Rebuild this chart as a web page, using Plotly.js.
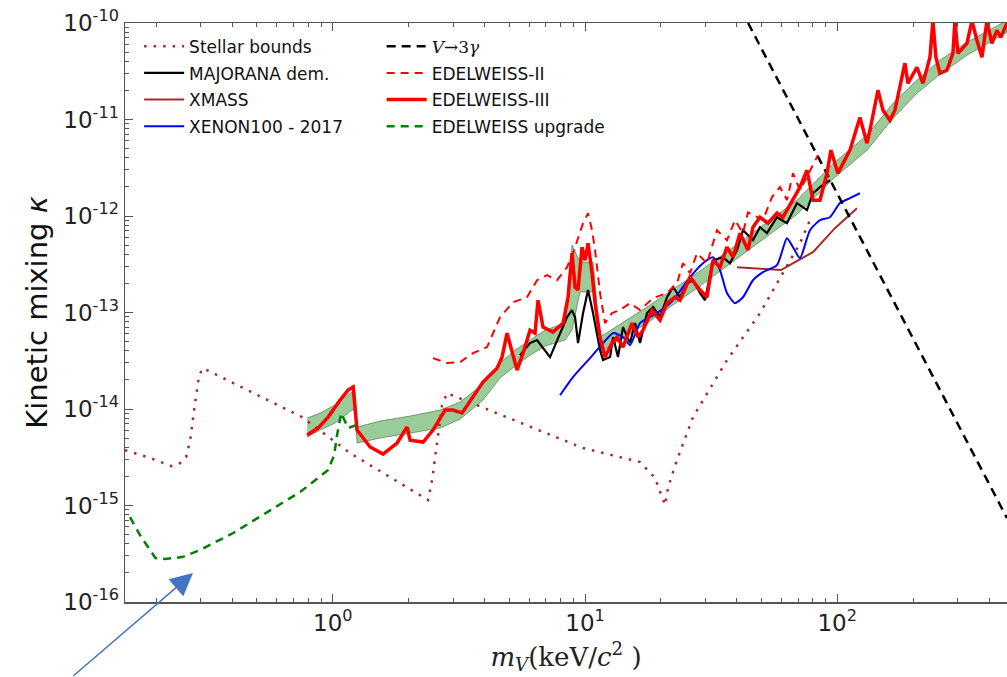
<!DOCTYPE html>
<html><head><meta charset="utf-8">
<script src="https://cdn.plot.ly/plotly-3.0.1.min.js"></script>
<style>html,body{margin:0;padding:0;background:#fff}#chart{width:1007px;height:677px}</style>
</head><body><div id="chart"></div>
<script>
// ---- data (keV/c^2, kinetic mixing) ----
const stellarX = [0.150,0.189,0.229,0.248,0.262,0.272,0.282,0.295,0.306,0.756,1.171,2.387,2.475,2.59,2.712,2.838,9.82,16.52,18.94,20.76,21.33,22.33,23.15,26.8,36.54,49.38,60.93,71.15,77.96];
const stellarY = [3.75e-15,3.10e-15,2.56e-15,2.75e-15,3.18e-15,4.76e-15,9.75e-15,2.24e-14,2.65e-14,8.24e-15,3.49e-15,1.14e-15,1.84e-15,4.76e-15,1.10e-14,1.46e-14,3.94e-15,2.82e-15,1.93e-15,1.01e-15,1.52e-15,2.22e-15,2.96e-15,8.24e-15,3.21e-14,9.85e-14,2.56e-13,5.22e-13,9.05e-13];

const majX = [5.525,6.053,6.452,6.942,7.265,7.467,7.960,8.485,8.880,9.129,9.381,9.820,10.28,10.76,11.47,11.79,12.57,12.91,13.51,14.14,15.08,15.79,16.52,17.61,18.60,19.83,21.14,22.33,23.80,25.37,26.80,28.57,29.89,32.17,35.24,37.55,40.05,42.29,46.33,49.38,52.64,57.68,63.18,69.24,75.86,80.13,85.41,93.56];
const majY = [3.61e-14,4.82e-14,5.18e-14,4.07e-14,3.45e-14,4.07e-14,6.11e-14,8.95e-14,1.06e-13,8.95e-14,4.82e-14,9.85e-14,1.71e-13,9.85e-14,4.07e-14,3.21e-14,3.45e-14,5.56e-14,3.45e-14,7.05e-14,4.82e-14,7.76e-14,4.82e-14,9.85e-14,1.14e-13,8.95e-14,1.44e-13,1.83e-13,1.44e-13,2.01e-13,2.16e-13,1.59e-13,1.34e-13,3.48e-13,3.74e-13,3.24e-13,4.43e-13,7.13e-13,5.61e-13,7.66e-13,6.64e-13,9.72e-13,8.43e-13,1.36e-12,1.15e-12,1.72e-12,1.99e-12,2.35e-12];

const xmassX = [40.05,59.83,67.98,80.13,97.9,119.7];
const xmassY = [2.95e-13,2.75e-13,3.33e-13,4.22e-13,7.48e-13,1.20e-12];

const xenonX = [7.960,8.962,10.47,11.79,12.91,14.14,15.08,16.52,19.29,22.33,26.08,29.36,32.17,34.28,36.54,39.31,42.29,46.33,50.76,57.68,63.18,66.76,71.15,77.96,85.41,93.56,102.5,112.3,123.0];
const xenonY = [1.39e-14,2.14e-14,3.37e-14,4.82e-14,6.11e-14,5.56e-14,4.59e-14,7.76e-14,9.85e-14,1.34e-13,2.32e-13,3.24e-13,3.74e-13,2.75e-13,1.59e-13,1.25e-13,1.44e-13,2.16e-13,2.62e-13,3.10e-13,5.89e-13,4.75e-13,3.66e-13,7.13e-13,9.05e-13,9.72e-13,1.36e-12,1.53e-12,1.72e-12];

const v3gX = [44.3, 471];
const v3gY = [1.0e-10, 7.4e-16];

const edw2X = [2.497,2.838,3.196,3.598,4.089,4.604,5.183,5.890,6.452,7.070,7.745,8.485,8.962,9.381,9.820,10.28,10.66,10.96,11.47,12.00,12.79,13.76,15.08,16.52,18.60,21.14,23.15,24.45,26.08,27.80,30.44,33.36,36.54,39.31,42.29,44.26,46.33,50.76,55.11,59.29,63.18,66.76,71.15,77.96,83.87];
const edw2Y = [3.37e-14,2.99e-14,3.06e-14,3.79e-14,4.38e-14,8.95e-14,1.28e-13,1.44e-13,2.16e-13,2.44e-13,2.16e-13,2.95e-13,4.12e-13,6.03e-13,8.43e-13,1.07e-12,7.13e-13,4.43e-13,1.59e-13,7.76e-14,9.85e-14,1.06e-13,1.25e-13,1.06e-13,1.41e-13,1.59e-13,2.01e-13,3.24e-13,2.56e-13,4.12e-13,3.24e-13,7.13e-13,5.61e-13,9.05e-13,6.64e-13,1.09e-12,1.02e-12,9.05e-13,1.57e-12,1.99e-12,1.46e-12,2.77e-12,1.85e-12,2.98e-12,4.27e-12];

const edw3X = [0.791,0.874,0.958,1.069,1.150,1.204,1.248,1.406,1.582,1.798,1.970,2.025,2.280,2.497,2.787,2.998,3.254,3.598,3.941,4.479,4.688,4.907,5.136,5.377,5.679,6.053,6.336,6.512,6.816,7.467,8.182,8.565,8.880,9.129,9.381,9.729,10.0,10.28,10.66,10.96,11.47,12.00,12.79,13.39,14.14,15.36,16.23,16.98,18.44,19.83,21.14,22.73,23.80,26.08,28.57,30.44,32.17,34.28,36.54,38.61,41.15,44.26,46.33,49.38,53.12,57.68,60.93,66.76,71.15,75.86,80.13,85.41,91.05,94.40,100.6,112.3,123.0,131.2,134.8,145.0,151.8,161.8,169.3,185.5,190.6,207.0,218.7,233.1,239.5,246.1,255.3,272.2,287.5,292.8,300.9,326.7,342.0,357.9,374.6,392.1,410.5,429.5,445.5,471];
const edw3Y = [5.37e-15,6.34e-15,8.24e-15,1.24e-14,1.57e-14,1.69e-14,6.05e-15,4.04e-15,3.41e-15,4.44e-15,6.50e-15,4.76e-15,4.54e-15,6.05e-15,9.75e-15,9.75e-15,9.08e-15,1.33e-14,1.90e-14,2.65e-14,3.45e-14,6.11e-14,3.79e-14,2.53e-14,3.79e-14,6.56e-14,6.11e-14,1.34e-13,7.05e-14,6.27e-14,7.76e-14,1.44e-13,4.12e-13,1.83e-13,1.71e-13,4.75e-13,3.48e-13,5.22e-13,2.56e-13,1.25e-13,5.56e-14,3.45e-14,4.82e-14,5.56e-14,4.38e-14,7.76e-14,5.56e-14,6.56e-14,1.06e-13,8.34e-14,1.25e-13,1.44e-13,1.34e-13,2.32e-13,1.71e-13,1.44e-13,3.48e-13,2.95e-13,4.75e-13,3.74e-13,6.64e-13,4.43e-13,7.66e-13,9.72e-13,8.43e-13,1.07e-12,9.72e-13,1.46e-12,1.99e-12,2.98e-12,1.46e-12,1.46e-12,2.77e-12,4.81e-12,2.77e-12,4.81e-12,1.05e-11,5.68e-12,7.74e-12,2.01e-11,1.25e-11,9.82e-12,1.25e-11,3.83e-11,2.37e-11,3.48e-11,2.37e-11,4.42e-11,1.05e-10,4.42e-11,3.01e-11,3.24e-11,4.86e-11,1.05e-10,4.86e-11,6.16e-11,1.05e-10,6.62e-11,4.42e-11,1.05e-10,6.16e-11,8.40e-11,7.11e-11,1.0e-10];

const upgX = [0.157,0.172,0.198,0.216,0.253,0.298,0.403,0.549,0.742,0.958,1.012,1.040,1.079,1.150,1.237];
const upgY = [7.59e-16,4.94e-16,2.86e-16,2.79e-16,2.92e-16,3.46e-16,5.19e-16,8.55e-16,1.38e-15,2.33e-15,3.33e-15,5.37e-15,9.08e-15,6.34e-15,6.81e-15];

const bandX  = [0.791,0.891,1.021,1.192,1.226,1.248,1.540,2.025,2.663,3.196,3.941,4.604,5.279,6.053,6.942,8.332,8.880,9.555,10.76,11.47,17.61,27.80,43.86,69.24,97.9,131.2,166.3,207.0,255.3,326.7,471];
const bandHi = [8.05e-15,9.08e-15,1.10e-14,1.50e-14,1.50e-14,6.50e-15,7.50e-15,8.45e-15,9.75e-15,1.18e-14,1.81e-14,2.99e-14,4.07e-14,5.18e-14,6.56e-14,7.76e-14,4.99e-13,3.33e-13,3.33e-13,5.56e-14,1.14e-13,2.56e-13,6.03e-13,1.46e-12,3.61e-12,6.87e-12,1.47e-11,2.55e-11,4.11e-11,6.31e-11,1.06e-10];
const bandLo = [5.12e-15,6.05e-15,7.15e-15,9.75e-15,9.75e-15,4.44e-15,5.00e-15,5.62e-15,6.34e-15,7.85e-15,1.24e-14,2.09e-14,2.78e-14,3.61e-14,4.49e-14,5.18e-14,6.56e-14,1.63e-13,1.63e-13,3.88e-14,7.76e-14,1.79e-13,4.32e-13,1.04e-12,2.52e-12,4.81e-12,1.03e-11,1.87e-11,2.94e-11,4.63e-11,8.01e-11];

const xTickVals = [1, 10, 100];
const xTickText = ['10<sup>0</sup>', '10<sup>1</sup>', '10<sup>2</sup>'];
const yTickVals = [1e-16, 1e-15, 1e-14, 1e-13, 1e-12, 1e-11, 1e-10];
const yTickText = ['10<sup>-16</sup>','10<sup>-15</sup>','10<sup>-14</sup>','10<sup>-13</sup>','10<sup>-12</sup>','10<sup>-11</sup>','10<sup>-10</sup>'];

// ---- traces ----
const polyX = bandX.concat(bandX.slice().reverse());
const polyY = bandHi.concat(bandLo.slice().reverse());

const traces = [
  {x: polyX, y: polyY, mode: 'lines', fill: 'toself', fillcolor: 'rgba(0,128,0,0.4)',
   line: {color: 'rgba(50,90,50,0.55)', width: 1}, showlegend: false, hoverinfo: 'skip'},
  {x: stellarX, y: stellarY, mode: 'lines', name: 'Stellar bounds', legend: 'legend', legendgroup: 'g1',
   line: {color: '#a52a2a', width: 2.5, dash: '2.5px,7px'}},
  {x: majX, y: majY, mode: 'lines', name: 'MAJORANA dem.', legend: 'legend', legendgroup: 'g2',
   line: {color: '#000000', width: 2.2}},
  {x: xmassX, y: xmassY, mode: 'lines', name: 'XMASS', legend: 'legend', legendgroup: 'g3',
   line: {color: '#a52a2a', width: 2}},
  {x: xenonX, y: xenonY, mode: 'lines', name: 'XENON100 - 2017', legend: 'legend', legendgroup: 'g4',
   line: {color: '#0000ff', width: 2, shape: 'spline', smoothing: 0.6}},
  {x: v3gX, y: v3gY, mode: 'lines', legend: 'legend2', legendgroup: 'g5',
   name: '<span style="font-family:\'DejaVu Serif\'"><i>V</i>→3<i>γ</i></span>',
   line: {color: '#000000', width: 2.5, dash: '9px,6px'}},
  {x: edw2X, y: edw2Y, mode: 'lines', name: 'EDELWEISS-II', legend: 'legend2', legendgroup: 'g6',
   line: {color: '#ff0000', width: 2, dash: '8px,6px'}},
  {x: edw3X, y: edw3Y, mode: 'lines', name: 'EDELWEISS-III', legend: 'legend2', legendgroup: 'g7',
   line: {color: '#ff0000', width: 3.5}},
  {x: upgX, y: upgY, mode: 'lines', name: 'EDELWEISS upgrade', legend: 'legend2', legendgroup: 'g8',
   line: {color: '#008000', width: 2.5, dash: '8px,6px'}}
];

const axisCommon = {
  type: 'log', showgrid: false, zeroline: false,
  showline: true, linecolor: '#555', linewidth: 1.5,
  ticks: 'inside', ticklen: 8, tickwidth: 1, tickcolor: '#555',
  tickfont: {family: 'DejaVu Sans', size: 23, color: '#222'},
  minor: {ticks: 'inside', ticklen: 4, tickwidth: 1, tickcolor: '#555', dtick: 'D1', showgrid: false}
};

const legendCommon = {
  xref: 'paper', yref: 'paper', xanchor: 'left', yanchor: 'top',
  bgcolor: 'rgba(0,0,0,0)', borderwidth: 0, itemwidth: 40, tracegroupgap: 1.5,
  font: {family: 'DejaVu Sans', size: 17, color: '#111'}
};

const layout = {
  width: 1007, height: 677,
  margin: {l: 125, r: 0, t: 23, b: 75, pad: 0},
  paper_bgcolor: '#ffffff', plot_bgcolor: '#ffffff',
  xaxis: Object.assign({}, axisCommon, {
    range: [Math.log10(0.150), Math.log10(471)], mirror: 'allticks',
    tickmode: 'array', tickvals: xTickVals, ticktext: xTickText,
    title: {text: '<i>m</i><sub><i>V</i></sub>(keV/<i>c</i><sup>2</sup> )',
            font: {family: 'DejaVu Serif', size: 26, color: '#222'}, standoff: 12}
  }),
  yaxis: Object.assign({}, axisCommon, {
    range: [-16, -10], mirror: false,
    tickmode: 'array', tickvals: yTickVals, ticktext: yTickText,
    title: {text: 'Kinetic mixing <i>κ</i>',
            font: {family: 'DejaVu Sans', size: 29, color: '#111'}, standoff: 7}
  }),
  legend: Object.assign({}, legendCommon, {x: 0.016, y: 0.99}),
  legend2: Object.assign({}, legendCommon, {x: 0.291, y: 0.99}),
  annotations: [{
    xref: 'paper', yref: 'paper', x: 0.0771, y: 0.050, text: '',
    showarrow: true, arrowhead: 2, arrowsize: 3, arrowwidth: 1.5,
    arrowcolor: '#4472c4', ax: -121, ay: 104
  }],
  showlegend: true
};

Plotly.newPlot('chart', traces, layout, {displayModeBar: false, staticPlot: true});
</script></body></html>
